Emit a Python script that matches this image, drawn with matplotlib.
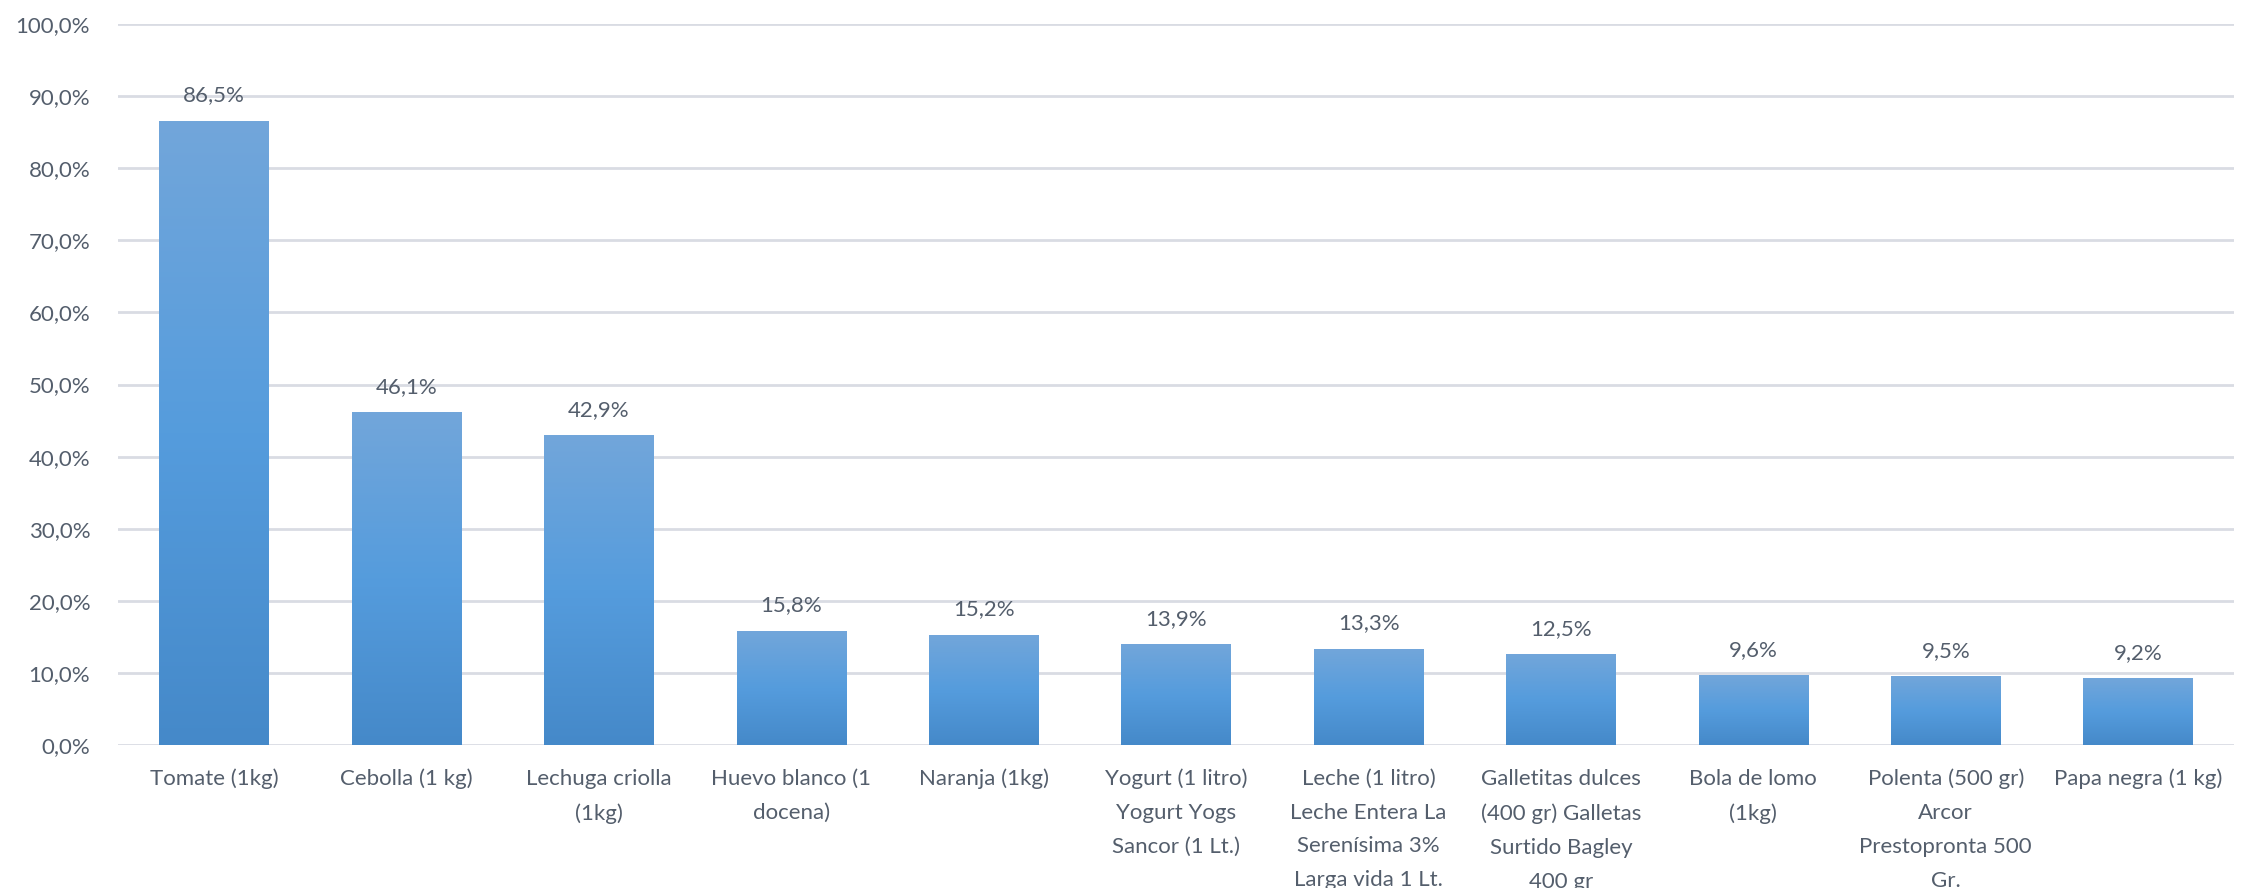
import numpy as np
import matplotlib
matplotlib.use("Agg")
from matplotlib import pyplot as plt
from matplotlib.colors import LinearSegmentedColormap
from matplotlib.ticker import FuncFormatter

# Chart data
productos = ["Tomate (1kg)", "Cebolla (1 kg)", "Lechuga criolla\n(1kg)",
             "Huevo blanco (1\ndocena)", "Naranja (1kg)",
             "Yogurt (1 litro)\nYogurt Yogs\nSancor (1 Lt.)",
             "Leche (1 litro)\nLeche Entera La\nSerenísima 3%\nLarga vida 1 Lt.",
             "Galletitas dulces\n(400 gr) Galletas\nSurtido Bagley\n400 gr",
             "Bola de lomo\n(1kg)",
             "Polenta (500 gr)\nArcor\nPrestopronta 500\nGr.",
             "Papa negra (1 kg)"]
variacion = [86.5, 46.1, 42.9, 15.8, 15.2, 13.9, 13.3, 12.5, 9.6, 9.5, 9.2]
yticks = [0, 10, 20, 30, 40, 50, 60, 70, 80, 90, 100]

txt_color = '#545e6c'
grid_color = '#d9dce3'
font = ['Lato', 'DejaVu Sans']
fsize = 16

grad = LinearSegmentedColormap.from_list('bar', ['#4589c9', '#559cdd', '#72a6da'])

fig = plt.figure(figsize=(22.42, 8.88), dpi=100)
ax = fig.add_axes([0.0526, 0.161, 0.944, 0.812])

x = np.arange(len(productos))
bw = 0.57
bars = ax.bar(x, variacion, width=bw, color='none', edgecolor='none', zorder=3)
g = np.linspace(0, 1, 256).reshape(-1, 1)
for b in bars:
    x0, w, h = b.get_x(), b.get_width(), b.get_height()
    ax.imshow(g, cmap=grad, origin='lower', aspect='auto',
              extent=[x0, x0 + w, 0, h], zorder=3)
    ax.text(x0 + w / 2, h + 2.2, ('%.1f%%' % h).replace('.', ','),
            ha='center', va='bottom', fontsize=fsize, color=txt_color, family=font)

ax.set_xlim(-0.5, len(productos) - 0.5)
ax.set_ylim(0, 100)
ax.set_yticks(yticks)
ax.yaxis.set_major_formatter(FuncFormatter(lambda v, p: ('%.1f%%' % v).replace('.', ',')))
ax.set_xticks(x)
ax.set_xticklabels(productos, linespacing=1.87)
ax.grid(axis='y', color=grid_color, linewidth=2, zorder=0)
ax.set_axisbelow(True)
for s in ax.spines.values():
    s.set_visible(False)
ax.tick_params(axis='both', length=0, colors=txt_color, labelsize=fsize)
ax.tick_params(axis='y', pad=20)
ax.tick_params(axis='x', pad=17)
for lab in ax.get_xticklabels() + ax.get_yticklabels():
    lab.set_family(font)

fig.savefig('out.png', dpi=100)
